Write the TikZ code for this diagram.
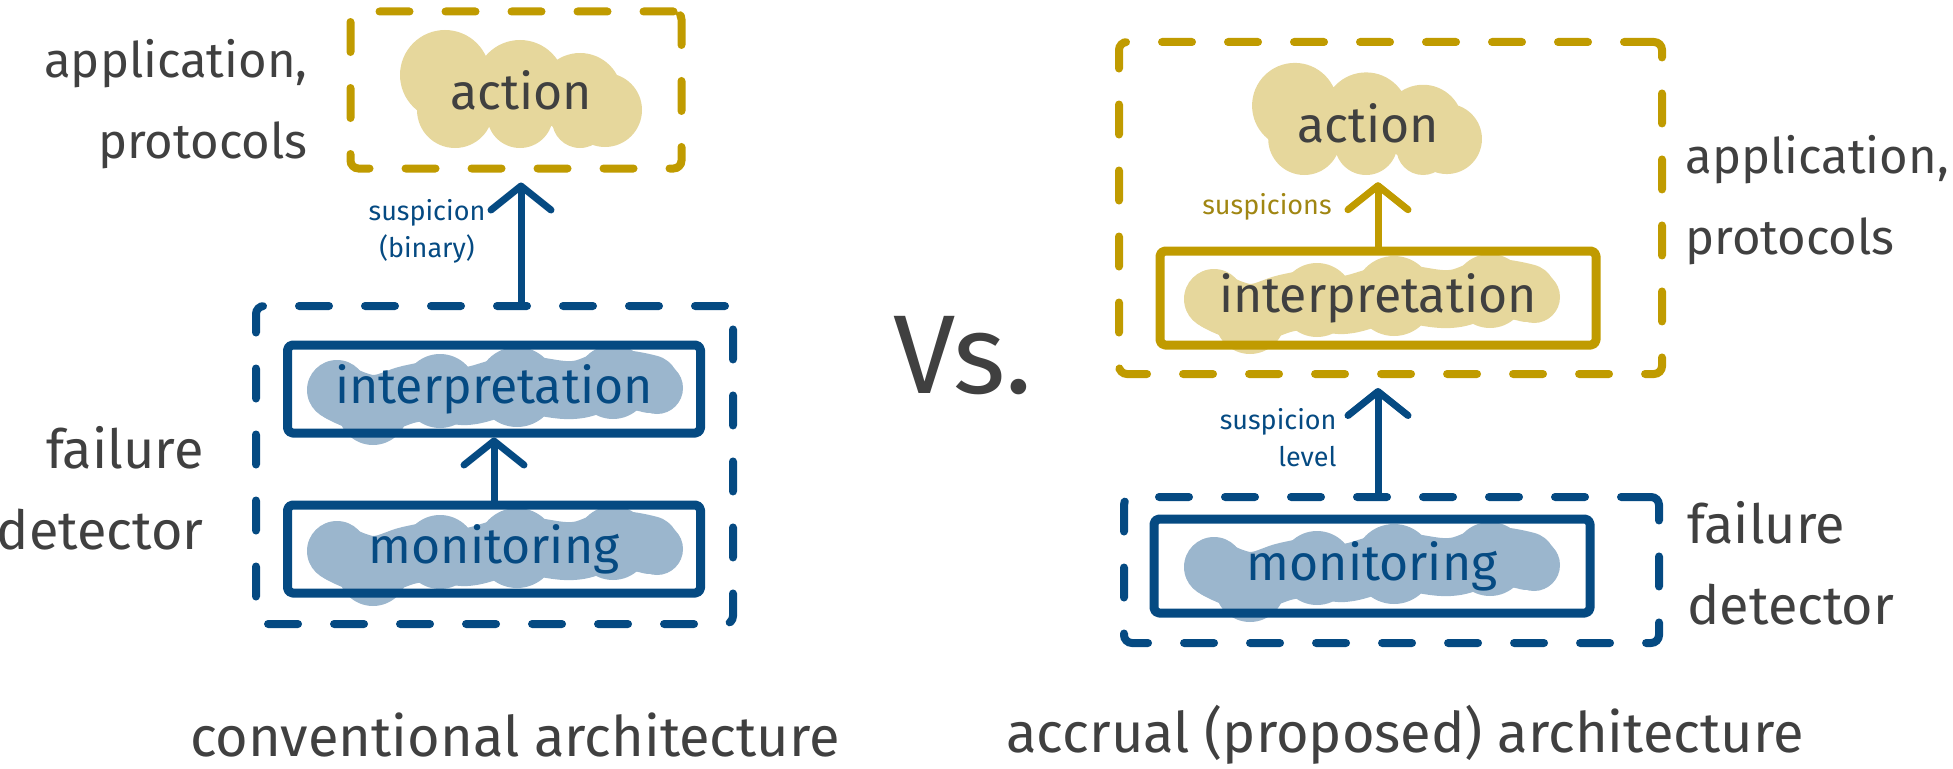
\documentclass[tikz,border=0pt]{standalone}
\usepackage{fontspec}
\setmainfont{Fira Sans}
\usetikzlibrary{arrows.meta,calc}
\definecolor{gold}{HTML}{C09B00}
\definecolor{goldL}{HTML}{E6D79C}
\definecolor{goldT}{HTML}{A08612}
\definecolor{blueD}{HTML}{054A82}
\definecolor{blueL}{HTML}{9BB6CD}
\definecolor{txt}{HTML}{404040}
\begin{document}
\begin{tikzpicture}[x=1pt,y=-1pt,
  dashbox/.style={draw=#1, line width=8, dash pattern=on 30 off 36, line cap=round, rounded corners=8, inner sep=0, outer sep=0},
  solidbox/.style={draw=#1, line width=9, rounded corners=5, line join=round, inner sep=0, minimum width=413, minimum height=88},
  boxtext/.style={font=\fontsize{50}{50}\selectfont},
  side/.style={font=\fontsize{49}{81}\selectfont, text=txt},
  sideb/.style={font=\fontsize{54}{81}\selectfont, text=txt},
  caption/.style={font=\fontsize{56}{60}\selectfont, text=txt},
  small/.style={font=\fontsize{27}{37}\selectfont},
  arr/.style={line width=7, line cap=round, line join=round, -{Straight Barb[length=24pt,width=60pt,line cap=round,line join=round]}},
  pics/cloud/.style={code={
    \fill[#1] (-76,-13) circle (45) (-1,-3) circle (45) (59,7) circle (42)
      (84,22) circle (37) (-66,22) circle (38) (-1,27) circle (33) (59,32) circle (28);}},
  pics/blob/.style={code={
    \draw[#1, line width=58, line cap=round, line join=round]
      plot[smooth, tension=0.7] coordinates {(-155,-3) (-122,8) (-85,-2) (-55,-6) (-28,0) (22,-11) (78,-6) (118,-17) (155,-12)};
    \fill[#1] (-158,-6) circle (30) (-122,14) circle (35) (-55,-5) circle (37)
      (22,-9) circle (40) (118,-14) circle (37) (162,-8) circle (26);}}
]
\useasboundingbox (0,0) rectangle (1953,768);

% ---------- left: conventional ----------
\node[dashbox=gold, minimum width=331, minimum height=157] (appL) at (516,90) {};
\node[dashbox=blueD, minimum width=477, minimum height=318] (fdL) at (494.5,465) {};

\pic at (521,88) {cloud=goldL};
\node[boxtext, text=txt, minimum width=240, minimum height=118] (actL) at (521,90) {action};

\pic at (495,396) {blob=blueL};
\pic at (495,557) {blob=blueL};
\node[solidbox=blueD, boxtext, text=blueD] (intL) at (494,389) {interpretation};
\node[solidbox=blueD, boxtext, text=blueD] (monL) at (494,549) {monitoring};

\draw[arr, draw=blueD] (monL.north) -- (intL.south);
\draw[arr, draw=blueD, shorten >=14] (actL.south |- fdL.north) -- (actL.south |- appL.south);

\node[small, text=blueD, align=center] (labL) at (427,231) {suspicion\\(binary)};

\node[side, align=right, anchor=east] (sideAL) at (311,104) {application,\\protocols};
\node[sideb, align=right, anchor=east] (sideFL) at (207,488) {failure\\detector};
\node[caption] (capL) at (515,735) {conventional architecture};

% ---------- middle ----------
\node[font=\fontsize{112}{112}\selectfont, text=txt] (vs) at (963,356) {Vs.};

% ---------- right: accrual ----------
\node[dashbox=gold, minimum width=543, minimum height=332] (appR) at (1390.5,208) {};
\node[dashbox=blueD, minimum width=535, minimum height=146] (fdR) at (1391.5,570) {};

\pic[scale=0.95] at (1367,118) {cloud=goldL};
\node[boxtext, text=txt, minimum width=230, minimum height=118] (actR) at (1368,123) {action};

\pic at (1372,305) {blob=goldL};
\pic at (1372,573) {blob=blueL};
\node[solidbox=gold, boxtext, text=txt, minimum width=436, minimum height=94] (intR) at (1378,298) {interpretation};
\node[solidbox=blueD, boxtext, text=blueD, minimum width=436, minimum height=94] (monR) at (1372,566) {monitoring};

\draw[arr, draw=gold] (intR.north) -- (intR.north |- actR.south);
\draw[arr, draw=blueD, shorten >=14] (intR.south |- fdR.north) -- (intR.south |- appR.south);

\node[small, text=goldT] (labR1) at (1267,207) {suspicions};
\node[small, text=blueD, align=right, anchor=east] (labR2) at (1340,438) {suspicion\\level};

\node[side, align=left, anchor=west] (sideAR) at (1682,200) {application,\\protocols};
\node[sideb, align=left, anchor=west] (sideFR) at (1684,563) {failure\\detector};
\node[caption] (capR) at (1405,735) {accrual (proposed) architecture};
\end{tikzpicture}
\end{document}
